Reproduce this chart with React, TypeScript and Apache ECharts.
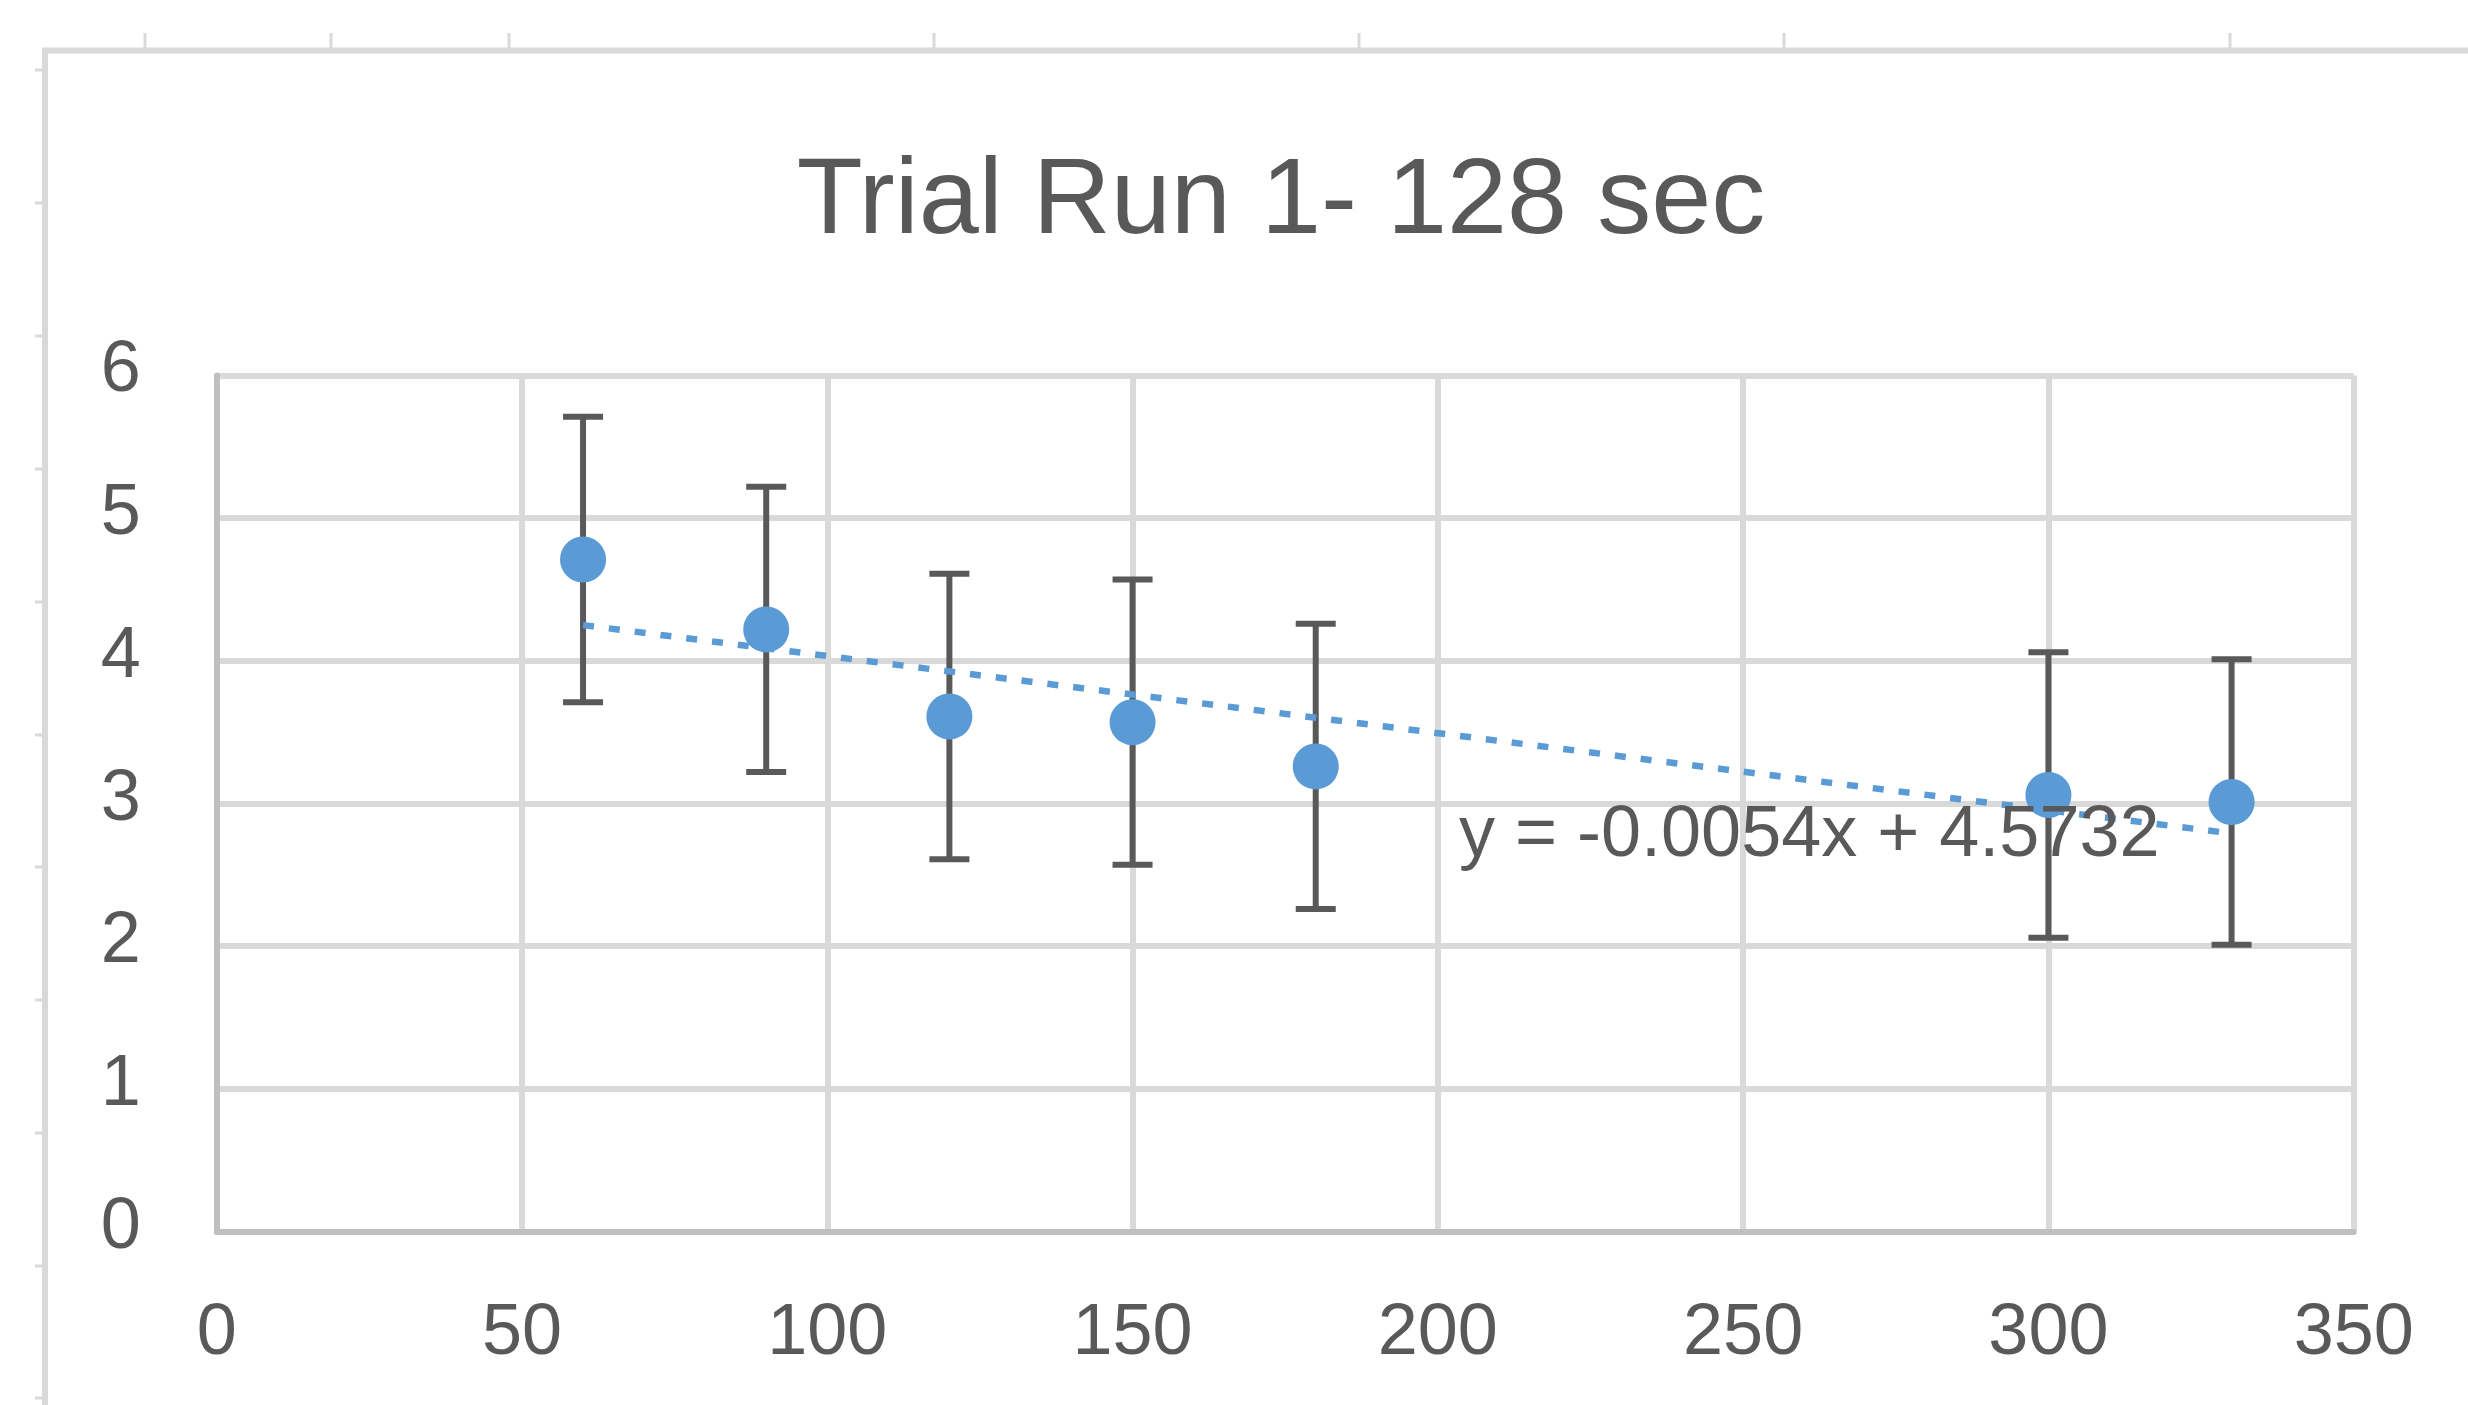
import React, { useEffect, useRef } from "react";
import * as echarts from "echarts";

const titleText = "Trial Run 1- 128 sec";
const xValues = [60, 90, 120, 150, 180, 300, 330];
const yValues = [4.71, 4.22, 3.61, 3.57, 3.26, 3.06, 3.01];
const errPlus = [1, 1, 1, 1, 1, 1, 1];
const errMinus = [1, 1, 1, 1, 1, 1, 1];
const trendX = [60, 330];
const trendY = [4.25, 2.79];
const trendLabel = "y = -0.0054x + 4.5732";
const xAxisRange = { min: 0, max: 350, interval: 50 };
const yAxisRange = { min: 0, max: 6, interval: 1 };
const sheetTopTicks = [145, 331, 509, 934, 1359, 1784, 2230];
const sheetLeftTicks = [70, 203, 336, 469, 602, 735, 867, 1000, 1133, 1266, 1398];

const FONT = "'Liberation Sans', Arial, sans-serif";
const TEXT = "#595959";
const BLUE = "#5b9bd5";
const GRID = "#d9d9d9";
const AXIS = "#bfbfbf";

export default function App() {
  const ref = useRef<HTMLDivElement>(null);

  useEffect(() => {
    if (!ref.current) return;
    const chart = echarts.init(ref.current, null, { renderer: "svg" });

    const points = xValues.map((x, i) => [x, yValues[i]]);
    const bars = xValues.map((x, i) => [x, yValues[i] - errMinus[i], yValues[i] + errPlus[i]]);
    const trend = trendX.map((x, i) => [x, trendY[i]]);

    const bg: any[] = [];
    bg.push({
      type: "line",
      shape: { x1: 42, y1: 50.5, x2: 2468, y2: 50.5 },
      style: { stroke: GRID, lineWidth: 6 },
      z: -10,
    });
    bg.push({
      type: "line",
      shape: { x1: 45, y1: 48, x2: 45, y2: 1405 },
      style: { stroke: GRID, lineWidth: 6 },
      z: -10,
    });
    sheetTopTicks.forEach((x) =>
      bg.push({
        type: "line",
        shape: { x1: x, y1: 33, x2: x, y2: 48 },
        style: { stroke: GRID, lineWidth: 3 },
        z: -10,
      })
    );
    sheetLeftTicks.forEach((y) =>
      bg.push({
        type: "line",
        shape: { x1: 35, y1: y, x2: 42, y2: y },
        style: { stroke: GRID, lineWidth: 3 },
        z: -10,
      })
    );
    bg.push({
      type: "text",
      x: 1459,
      y: 831,
      z: 100,
      style: {
        text: trendLabel,
        fill: TEXT,
        font: `72px ${FONT}`,
        fontSize: 72,
        fontFamily: FONT,
        textAlign: "left",
        textVerticalAlign: "middle",
        verticalAlign: "middle",
      },
    });

    chart.setOption({
      animation: false,
      backgroundColor: "#ffffff",
      title: {
        text: titleText,
        left: 1276,
        top: 136,
        textAlign: "center",
        textStyle: { color: TEXT, fontSize: 108, fontWeight: "normal", fontFamily: FONT },
      },
      grid: { left: 216.7, right: 114.3, top: 375.4, bottom: 173.4, containLabel: false },
      xAxis: {
        type: "value",
        min: xAxisRange.min,
        max: xAxisRange.max,
        interval: xAxisRange.interval,
        axisLine: { show: true, onZero: false, lineStyle: { color: AXIS, width: 6 } },
        axisTick: { show: false },
        splitLine: { show: true, lineStyle: { color: GRID, width: 6 } },
        axisLabel: { color: TEXT, fontSize: 72, fontFamily: FONT, margin: 61 },
      },
      yAxis: {
        type: "value",
        min: yAxisRange.min,
        max: yAxisRange.max,
        interval: yAxisRange.interval,
        axisLine: { show: true, onZero: false, lineStyle: { color: AXIS, width: 6 } },
        axisTick: { show: false },
        splitLine: { show: true, lineStyle: { color: GRID, width: 6 } },
        axisLabel: {
          color: TEXT,
          fontSize: 72,
          fontFamily: FONT,
          margin: 76,
          verticalAlign: "bottom",
          lineHeight: 18,
        },
      },
      graphic: bg,
      series: [
        {
          type: "custom",
          name: "errors",
          z: 2,
          encode: { x: 0, y: [1, 2] },
          data: bars,
          renderItem: (params: any, api: any) => {
            const x = api.value(0);
            const lo = api.value(1);
            const hi = api.value(2);
            const pHi = api.coord([x, hi]);
            const pLo = api.coord([x, lo]);
            const cap = 20;
            const style = { stroke: TEXT, lineWidth: 6 };
            return {
              type: "group",
              children: [
                { type: "line", shape: { x1: pHi[0], y1: pHi[1], x2: pLo[0], y2: pLo[1] }, style },
                { type: "line", shape: { x1: pHi[0] - cap, y1: pHi[1], x2: pHi[0] + cap, y2: pHi[1] }, style },
                { type: "line", shape: { x1: pLo[0] - cap, y1: pLo[1], x2: pLo[0] + cap, y2: pLo[1] }, style },
              ],
            };
          },
        },
        {
          type: "line",
          name: "trend",
          z: 3,
          data: trend,
          symbol: "none",
          lineStyle: { color: BLUE, width: 6.5, type: [11, 15], cap: "butt" },
        },
        {
          type: "scatter",
          name: "points",
          z: 4,
          data: points,
          symbol: "circle",
          symbolSize: 46,
          itemStyle: { color: BLUE, opacity: 1 },
        },
      ],
    });

    return () => chart.dispose();
  }, []);

  return (
    <div
      ref={ref}
      style={{ position: "fixed", left: 0, top: 0, width: 2468, height: 1405, background: "#fff" }}
    />
  );
}
